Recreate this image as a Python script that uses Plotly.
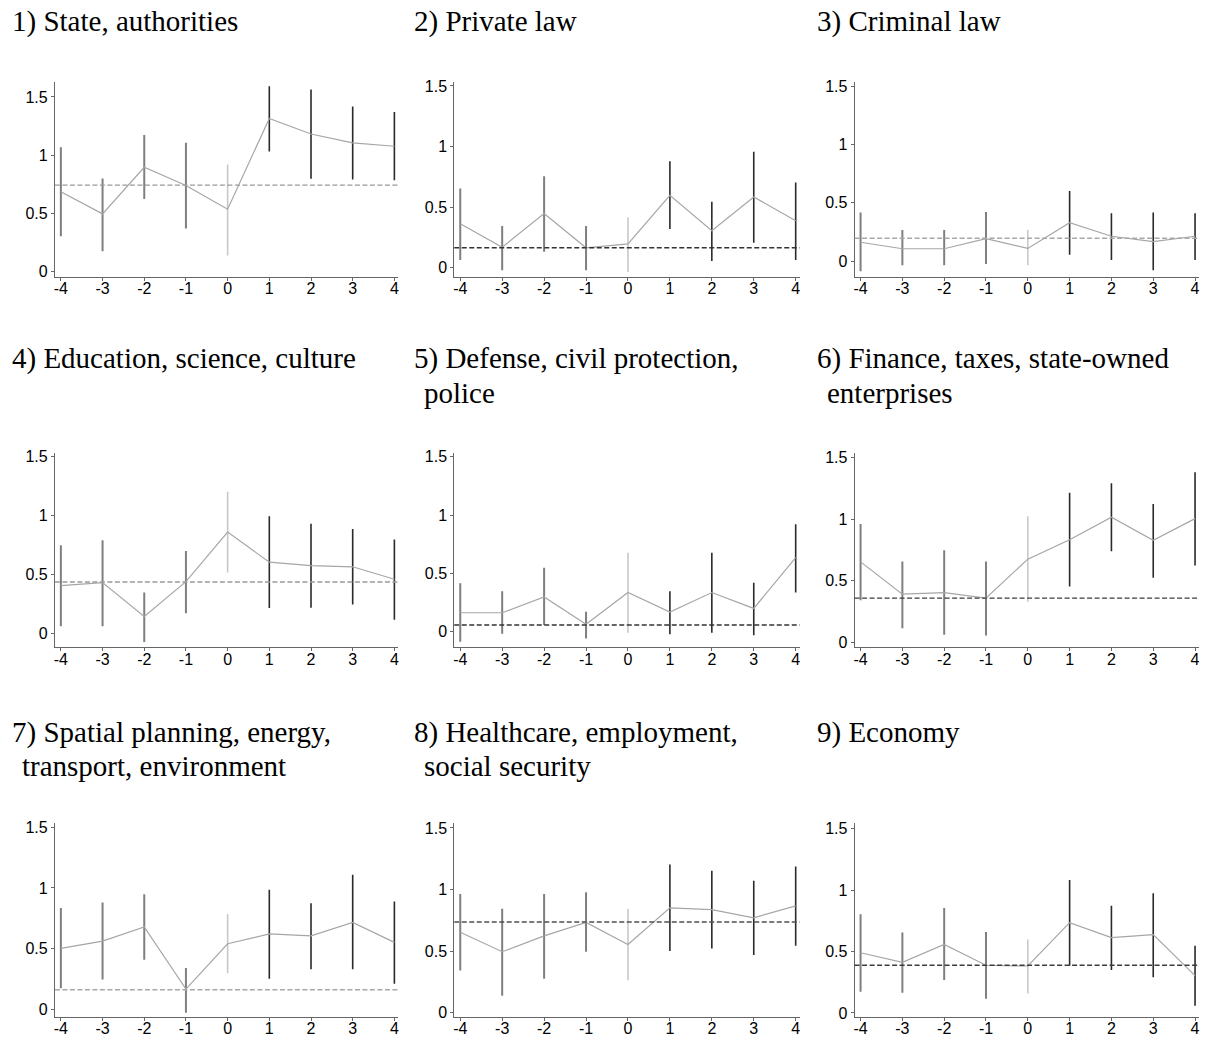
import plotly.graph_objects as go
from plotly.subplots import make_subplots

# ---------------- data ----------------
periods = [-4, -3, -2, -1, 0, 1, 2, 3, 4]
x_ticklabels = ["-4", "-3", "-2", "-1", "0", "1", "2", "3", "4"]
y_tickvals = [0, 0.5, 1, 1.5]
y_ticklabels = ["0", "0.5", "1", "1.5"]

titles = [
    "1) State, authorities",
    "2) Private law",
    "3) Criminal law",
    "4) Education, science, culture",
    "5) Defense, civil protection,\npolice",
    "6) Finance, taxes, state-owned\nenterprises",
    "7) Spatial planning, energy,\ntransport, environment",
    "8) Healthcare, employment,\nsocial security",
    "9) Economy",
]

p1_est = [0.686, 0.496, 0.896, 0.740, 0.536, 1.316, 1.182, 1.106, 1.077]
p1_lo = [0.303, 0.176, 0.624, 0.371, 0.139, 1.032, 0.797, 0.791, 0.785]
p1_hi = [1.069, 0.800, 1.174, 1.106, 0.921, 1.593, 1.565, 1.418, 1.372]

p2_est = [0.363, 0.169, 0.447, 0.164, 0.196, 0.597, 0.305, 0.584, 0.387]
p2_lo = [0.063, -0.022, 0.131, -0.022, -0.035, 0.319, 0.055, 0.205, 0.063]
p2_hi = [0.654, 0.344, 0.755, 0.344, 0.417, 0.878, 0.545, 0.957, 0.704]

p3_est = [0.161, 0.105, 0.105, 0.192, 0.108, 0.328, 0.212, 0.167, 0.212]
p3_lo = [-0.087, -0.037, -0.037, -0.025, -0.037, 0.054, 0.008, -0.079, 0.008]
p3_hi = [0.415, 0.265, 0.265, 0.420, 0.265, 0.600, 0.410, 0.416, 0.410]

p4_est = [0.409, 0.434, 0.148, 0.442, 0.862, 0.607, 0.577, 0.568, 0.462]
p4_lo = [0.064, 0.064, -0.070, 0.174, 0.520, 0.218, 0.221, 0.249, 0.120]
p4_hi = [0.750, 0.792, 0.350, 0.702, 1.203, 0.996, 0.932, 0.887, 0.800]

p5_est = [0.164, 0.164, 0.300, 0.065, 0.337, 0.170, 0.337, 0.201, 0.637]
p5_lo = [-0.085, -0.017, 0.059, -0.057, -0.008, -0.020, -0.008, -0.028, 0.337]
p5_hi = [0.416, 0.348, 0.549, 0.173, 0.679, 0.348, 0.679, 0.422, 0.923]

p6_est = [0.653, 0.390, 0.403, 0.358, 0.675, 0.833, 1.016, 0.828, 1.005]
p6_lo = [0.341, 0.113, 0.059, 0.054, 0.328, 0.452, 0.739, 0.524, 0.624]
p6_hi = [0.962, 0.656, 0.747, 0.656, 1.024, 1.215, 1.293, 1.124, 1.382]

p7_est = [0.503, 0.563, 0.679, 0.168, 0.541, 0.622, 0.606, 0.717, 0.552]
p7_lo = [0.174, 0.247, 0.410, -0.027, 0.299, 0.253, 0.332, 0.332, 0.212]
p7_hi = [0.834, 0.880, 0.948, 0.342, 0.785, 0.986, 0.875, 1.109, 0.889]

p8_est = [0.654, 0.496, 0.624, 0.734, 0.555, 0.852, 0.838, 0.771, 0.868]
p8_lo = [0.343, 0.139, 0.276, 0.496, 0.265, 0.501, 0.522, 0.469, 0.544]
p8_hi = [0.964, 0.844, 0.964, 0.978, 0.844, 1.203, 1.152, 1.071, 1.187]

p9_est = [0.490, 0.412, 0.558, 0.388, 0.382, 0.735, 0.614, 0.638, 0.304]
p9_lo = [0.172, 0.164, 0.267, 0.116, 0.159, 0.385, 0.350, 0.291, 0.059]
p9_hi = [0.803, 0.654, 0.854, 0.660, 0.598, 1.083, 0.873, 0.975, 0.547]

baselines = [0.743, 0.164, 0.195, 0.439, 0.059, 0.358, 0.163, 0.737, 0.388]

# ---------------- styles / layout ----------------
W, H = 1208, 1043
col_px = [(54, 398), (454, 800), (855, 1200)]
row_px = [(78, 274), (452, 648), (825, 1021)]
y_ranges = [
    (-0.043, 1.626), (-0.074, 1.530), (-0.134, 1.532),
    (-0.115, 1.531), (-0.133, 1.532), (-0.043, 1.538),
    (-0.063, 1.535), (-0.035, 1.541), (-0.035, 1.548),
]
x_range = (-4.143, 4.095)
title_x_px = [9, 412, 815]
title_y_px = [17, 357, 734]
title_line_gap = 34
title_indent = 10
dash_colors = ["#9a9a9a", "#333333", "#a8a8a8", "#9a9a9a", "#333333",
               "#3c3c3c", "#a8a8a8", "#505050", "#3c3c3c"]
pre_color, zero_color, post_color = "#7f7f7f", "#c8c8c8", "#2a2a2a"
line_color = "#a6a6a6"

panels = [
    (p1_est, p1_lo, p1_hi), (p2_est, p2_lo, p2_hi), (p3_est, p3_lo, p3_hi),
    (p4_est, p4_lo, p4_hi), (p5_est, p5_lo, p5_hi), (p6_est, p6_lo, p6_hi),
    (p7_est, p7_lo, p7_hi), (p8_est, p8_lo, p8_hi), (p9_est, p9_lo, p9_hi),
]

fig = make_subplots(rows=3, cols=3)


def segs(xs, lo, hi, keep):
    sx, sy = [], []
    for x, l, h in zip(xs, lo, hi):
        if keep(x):
            sx += [x, x, None]
            sy += [l, h, None]
    return sx, sy


annotations = []
shapes = []
for i, (est, lo, hi) in enumerate(panels):
    r, c = i // 3, i % 3
    n = i + 1
    groups = [
        (lambda x: x < 0, pre_color, 2.0),
        (lambda x: x == 0, zero_color, 1.6),
        (lambda x: x > 0, post_color, 1.6),
    ]
    for keep, col, w in groups:
        sx, sy = segs(periods, lo, hi, keep)
        fig.add_trace(go.Scatter(x=sx, y=sy, mode="lines",
                                 line=dict(color=col, width=w),
                                 hoverinfo="skip", showlegend=False),
                      row=r + 1, col=c + 1)
    fig.add_trace(go.Scatter(x=periods, y=est, mode="lines",
                             line=dict(color=line_color, width=1.2),
                             showlegend=False),
                  row=r + 1, col=c + 1)
    xa = "x" if n == 1 else f"x{n}"
    ya = "y" if n == 1 else f"y{n}"
    shapes.append(dict(type="line", xref=f"{xa} domain", x0=0, x1=1,
                       yref=ya, y0=baselines[i], y1=baselines[i],
                       line=dict(color=dash_colors[i], width=1.4, dash="5px,2.5px")))

    x0, x1 = col_px[c]
    yt, yb = row_px[r]
    axis_common = dict(showline=True, linecolor="#666666", linewidth=1,
                       ticks="outside", ticklen=3, tickcolor="#666666",
                       showgrid=False, zeroline=False,
                       tickfont=dict(family="Liberation Sans, Arial", size=16, color="black"))
    fig.update_xaxes(domain=[x0 / W, x1 / W], range=list(x_range),
                     tickvals=periods, ticktext=x_ticklabels,
                     ticklabelstandoff=-6,
                     row=r + 1, col=c + 1, **axis_common)
    fig.update_yaxes(domain=[1 - yb / H, 1 - yt / H], range=list(y_ranges[i]),
                     tickvals=y_tickvals, ticktext=y_ticklabels,
                     row=r + 1, col=c + 1, **axis_common)

    lines = titles[i].split("\n")
    for k, txt in enumerate(lines):
        annotations.append(dict(
            text=txt, xref="paper", yref="paper",
            x=(title_x_px[c] + (title_indent if k > 0 else 0)) / W,
            y=1 - (title_y_px[r] + k * title_line_gap) / H,
            xanchor="left", yanchor="middle", showarrow=False,
            font=dict(family="Liberation Serif, Times New Roman", size=29, color="black")))

fig.update_layout(width=W, height=H, margin=dict(l=0, r=0, t=0, b=0),
                  paper_bgcolor="white", plot_bgcolor="white",
                  showlegend=False, annotations=annotations, shapes=shapes)

fig.write_html("out.html")
